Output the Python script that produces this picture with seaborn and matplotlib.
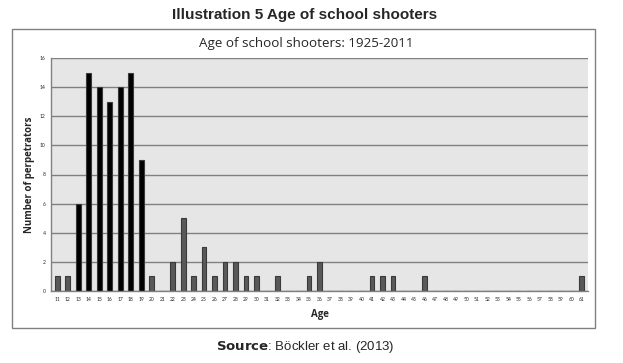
import pandas as pd
import numpy as np
import matplotlib
matplotlib.use("Agg")
import matplotlib.pyplot as plt
import seaborn as sns
from matplotlib.patches import Rectangle

# ages 11..61 and number of perpetrators
ages = list(range(11, 62))
counts = [1, 1, 6, 15, 14, 13, 14, 15, 9, 1,
          0, 2, 5, 1, 3, 1, 2, 2, 1, 1,
          0, 1, 0, 0, 1, 2, 0, 0, 0, 0,
          1, 1, 1, 0, 0, 1, 0, 0, 0, 0,
          0, 0, 0, 0, 0, 0, 0, 0, 0, 0,
          1]
peak_ages = [13, 14, 15, 16, 17, 18, 19]
y_ticks = [0, 2, 4, 6, 8, 10, 12, 14, 16]

df = pd.DataFrame({'age': [str(a) for a in ages], 'count': counts})
df['group'] = np.where(df['age'].astype(int).isin(peak_ages), 'peak', 'other')

sns.set_style("white")
plt.rcParams['font.family'] = ['Liberation Sans', 'DejaVu Sans']

fig = plt.figure(figsize=(6.23, 3.63), dpi=100)
ax = fig.add_axes([51 / 623, 1 - 291 / 363, (588 - 51) / 623, (291 - 58) / 363])

sns.barplot(data=df, x='age', y='count', hue='group', dodge=False,
            palette={'peak': '#000000', 'other': '#595959'},
            width=0.45, linewidth=0.8, edgecolor='#3a3a3a', legend=False, ax=ax)

ax.set_facecolor('#e6e6e6')
ax.set_ylim(0, 16)
ax.set_xlim(-0.6, len(ages) - 0.4)
ax.set_yticks(y_ticks)
ax.set_yticklabels([str(t) for t in y_ticks], fontsize=3.6, family='Lato')
ax.set_xticks(range(len(ages)))
ax.set_xticklabels([str(a) for a in ages], fontsize=3.6, family='Lato')
ax.tick_params(axis='both', length=2, width=0.6, color='#808080', pad=2)
ax.tick_params(axis='x', length=0, pad=4)
ax.grid(axis='y', color='#808080', linewidth=1)
ax.set_axisbelow(True)
for side in ['top', 'right']:
    ax.spines[side].set_visible(False)
for side in ['left', 'bottom']:
    ax.spines[side].set_color('#808080')
    ax.spines[side].set_linewidth(1)

ax.set_xlabel('Age', fontsize=7, fontweight='bold', family='Open Sans', labelpad=5)
ax.set_ylabel('Number of perpetrators', fontsize=7, fontweight='bold',
              family='Open Sans', labelpad=3)

# chart frame
fig.patches.append(Rectangle((12 / 623, 1 - 328 / 363), (595 - 12) / 623, (328 - 29) / 363,
                             transform=fig.transFigure, fill=False,
                             edgecolor='#808080', linewidth=1))

fig.text(305 / 623, 1 - 15 / 363, 'Illustration 5 Age of school shooters',
         ha='center', va='center', fontsize=11, fontweight='bold')
fig.text(306 / 623, 1 - 43 / 363, 'Age of school shooters: 1925-2011',
         ha='center', va='center', fontsize=9.6, family='Open Sans', fontweight='medium')
fig.text(305 / 623, 1 - 347 / 363, r'$\bf{Source}$: Böckler et al. (2013)',
         ha='center', va='center', fontsize=9.5)

fig.savefig('out.png', dpi=100)
